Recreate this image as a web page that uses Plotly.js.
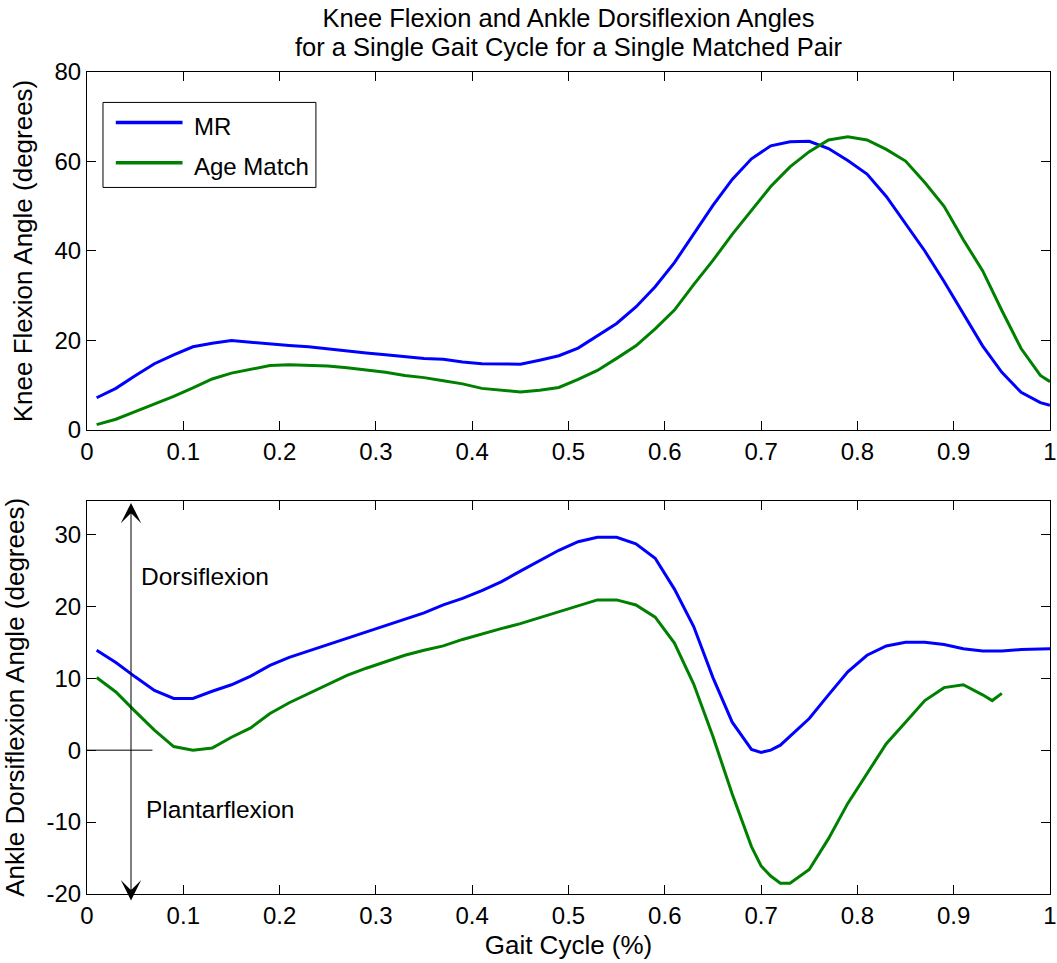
<!DOCTYPE html>
<html>
<head>
<meta charset="utf-8">
<script src="https://cdn.plot.ly/plotly-3.0.1.min.js"></script>
<style>html,body{margin:0;padding:0;background:#fff;}</style>
</head>
<body>
<div id="chart" style="width:1057px;height:963px;"></div>
<script>
// ---- Data ----
const kneeX = [0.01,0.03,0.05,0.07,0.09,0.11,0.13,0.15,0.17,0.19,0.21,0.23,0.25,0.27,0.29,0.31,0.33,0.35,0.37,0.39,0.41,0.43,0.45,0.47,0.49,0.51,0.53,0.55,0.57,0.59,0.61,0.63,0.65,0.67,0.69,0.71,0.73,0.75,0.77,0.79,0.81,0.83,0.85,0.87,0.89,0.91,0.93,0.95,0.97,0.99,1.00];

const kneeMR = [7.2,9.3,12.1,14.8,16.8,18.6,19.4,20.0,19.6,19.2,18.9,18.6,18.1,17.7,17.2,16.8,16.4,16.0,15.8,15.2,14.8,14.7,14.7,15.6,16.6,18.3,21.1,23.8,27.5,32.0,37.4,43.7,50.2,56.0,60.6,63.5,64.4,64.5,62.9,60.2,57.2,52.2,46.0,40.0,33.2,26.1,18.8,12.9,8.4,6.1,5.5];

const kneeAgeMatch = [1.2,2.4,4.1,5.8,7.5,9.4,11.4,12.7,13.5,14.4,14.6,14.5,14.3,13.9,13.4,12.9,12.2,11.7,11.0,10.3,9.3,8.9,8.5,8.9,9.5,11.3,13.3,16.0,18.8,22.6,26.8,32.5,37.9,43.7,49.1,54.4,58.8,62.2,64.8,65.5,64.8,62.7,60.1,55.3,50.0,42.5,35.6,26.7,18.2,12.2,10.8];

const ankleX = [0.01,0.03,0.05,0.07,0.09,0.11,0.13,0.15,0.17,0.19,0.21,0.23,0.25,0.27,0.29,0.31,0.33,0.35,0.37,0.39,0.41,0.43,0.45,0.47,0.49,0.51,0.53,0.55,0.57,0.59,0.61,0.63,0.65,0.67,0.69,0.70,0.71,0.72,0.73,0.75,0.77,0.79,0.81,0.83,0.85,0.87,0.89,0.91,0.93,0.95,0.97,0.99,1.00];

const ankleMR = [13.9,12.2,10.2,8.3,7.2,7.2,8.2,9.1,10.3,11.8,12.9,13.8,14.7,15.6,16.4,17.4,18.2,19.1,20.2,21.1,22.2,23.4,24.9,26.4,27.8,29.0,29.6,29.6,28.7,26.7,22.4,17.2,10.1,3.9,0.1,-0.3,0.0,0.7,1.9,4.4,7.7,10.9,13.2,14.5,15.0,15.0,14.7,14.1,13.8,13.8,14.0,14.1,14.1];

const ankleAgeX = [0.01,0.03,0.05,0.07,0.09,0.11,0.13,0.15,0.17,0.19,0.21,0.23,0.25,0.27,0.29,0.31,0.33,0.35,0.37,0.39,0.41,0.43,0.45,0.47,0.49,0.51,0.53,0.55,0.57,0.59,0.61,0.63,0.65,0.67,0.69,0.70,0.71,0.72,0.73,0.75,0.77,0.79,0.81,0.83,0.85,0.87,0.89,0.91,0.93,0.94,0.95];

const ankleAgeMatch = [10.1,8.1,5.4,2.8,0.5,0.0,0.3,1.8,3.1,5.1,6.6,7.9,9.2,10.4,11.4,12.3,13.2,13.9,14.5,15.4,16.2,16.9,17.6,18.4,19.2,20.1,20.9,20.9,20.2,18.5,14.9,9.2,1.9,-6.1,-13.4,-16.1,-17.5,-18.5,-18.5,-16.6,-12.3,-7.4,-3.2,0.9,3.9,6.9,8.7,9.1,7.7,6.9,7.9];

const seriesNames = ['MR', 'Age Match'];
const gaitTickVals = [0,0.1,0.2,0.3,0.4,0.5,0.6,0.7,0.8,0.9,1];
const gaitTickText = ['0','0.1','0.2','0.3','0.4','0.5','0.6','0.7','0.8','0.9','1'];
const kneeTickVals = [0,20,40,60,80];
const ankleTickVals = [-20,-10,0,10,20,30];
const ankleTickText = ['-20','-10','0','10','20','30'];

// ---- Styling ----
const FONT = 'Liberation Sans, Arial, Helvetica, sans-serif';
const BLUE = '#0000ff';
const GREEN = '#008000';

const traces = [
  {x: kneeX, y: kneeMR, name: seriesNames[0], type: 'scatter', mode: 'lines',
   line: {color: BLUE, width: 3}, xaxis: 'x', yaxis: 'y', showlegend: false},
  {x: kneeX, y: kneeAgeMatch, name: seriesNames[1], type: 'scatter', mode: 'lines',
   line: {color: GREEN, width: 3}, xaxis: 'x', yaxis: 'y', showlegend: false},
  {x: ankleX, y: ankleMR, name: seriesNames[0], type: 'scatter', mode: 'lines',
   line: {color: BLUE, width: 3}, xaxis: 'x2', yaxis: 'y2', showlegend: false},
  {x: ankleAgeX, y: ankleAgeMatch, name: seriesNames[1], type: 'scatter', mode: 'lines',
   line: {color: GREEN, width: 3}, xaxis: 'x2', yaxis: 'y2', showlegend: false}
];

function axisBase() {
  return {
    showline: true, linecolor: '#000', linewidth: 1, mirror: 'ticks',
    ticks: 'inside', ticklen: 9, tickwidth: 1, tickcolor: '#000',
    showgrid: false, zeroline: false,
    tickfont: {family: FONT, size: 24, color: '#000'}
  };
}

const TS = 'font-size:25.5px';
const layout = {
  width: 1057, height: 963,
  margin: {l: 87, r: 7, t: 72, b: 69},
  paper_bgcolor: '#fff', plot_bgcolor: '#fff',
  showlegend: false,
  title: {
    text: '<span style="' + TS + '">Knee Flexion and Ankle Dorsiflexion Angles</span><br><span style="' + TS + '">for a Single Gait Cycle for a Single Matched Pair</span>',
    font: {family: FONT, size: 22.3, color: '#000'},
    x: 0.5, xref: 'paper', xanchor: 'center',
    y: 0.972, yref: 'container', yanchor: 'middle'
  },
  xaxis: Object.assign(axisBase(), {domain: [0, 1], range: [0, 1], tickmode: 'array',
    tickvals: gaitTickVals, ticktext: gaitTickText, ticklabeloverflow: 'allow', anchor: 'y'}),
  yaxis: Object.assign(axisBase(), {
    domain: [0.5645, 1], range: [0, 80], tickmode: 'array', tickvals: kneeTickVals, anchor: 'x',
    title: {text: 'Knee Flexion Angle (degrees)', font: {family: FONT, size: 26, color: '#000'}, standoff: 14}
  }),
  xaxis2: Object.assign(axisBase(), {
    domain: [0, 1], range: [0, 1], tickmode: 'array', tickvals: gaitTickVals, ticktext: gaitTickText,
    ticklabeloverflow: 'allow', anchor: 'y2',
    title: {text: 'Gait Cycle (%)', font: {family: FONT, size: 26, color: '#000'}, standoff: 8}
  }),
  yaxis2: Object.assign(axisBase(), {
    domain: [0, 0.4785], range: [-20, 34.7], tickmode: 'array',
    tickvals: ankleTickVals, ticktext: ankleTickText, anchor: 'x2',
    title: {text: 'Ankle Dorsiflexion Angle (degrees)', font: {family: FONT, size: 26, color: '#000'}, standoff: 14}
  }),
  shapes: [
    // legend box (top panel)
    {type: 'rect', xref: 'x', yref: 'y', x0: 0.0166, x1: 0.2377, y0: 54.2, y1: 73.2,
     line: {color: '#000', width: 1}, fillcolor: '#fff', layer: 'above'},
    {type: 'line', xref: 'x', yref: 'y', x0: 0.0299, x1: 0.0992, y0: 68.7, y1: 68.7,
     line: {color: BLUE, width: 3.5}, layer: 'above'},
    {type: 'line', xref: 'x', yref: 'y', x0: 0.0299, x1: 0.0992, y0: 59.7, y1: 59.7,
     line: {color: GREEN, width: 3.5}, layer: 'above'},
    // zero reference line (bottom panel)
    {type: 'line', xref: 'x2', yref: 'y2', x0: 0, x1: 0.068, y0: 0, y1: 0,
     line: {color: '#000', width: 1}}
  ],
  annotations: [
    {xref: 'x', yref: 'y', x: 0.1095, y: 67.8, text: seriesNames[0], showarrow: false,
     xanchor: 'left', yanchor: 'middle', font: {family: FONT, size: 24, color: '#000'}},
    {xref: 'x', yref: 'y', x: 0.1095, y: 58.8, text: seriesNames[1], showarrow: false,
     xanchor: 'left', yanchor: 'middle', font: {family: FONT, size: 24, color: '#000'}},
    {xref: 'x2', yref: 'y2', x: 0.0457, y: -20.9, axref: 'x2', ayref: 'y2', ax: 0.0457, ay: 34.6,
     text: '', showarrow: true, arrowside: 'end+start', arrowhead: 3, startarrowhead: 3,
     arrowsize: 3.4, startarrowsize: 3.4, arrowwidth: 1, arrowcolor: '#000', standoff: 0, startstandoff: 0},
    {xref: 'x2', yref: 'y2', x: 0.0535, y: 24.1, text: 'Dorsiflexion', showarrow: false,
     xanchor: 'left', yanchor: 'middle', font: {family: FONT, size: 24.5, color: '#000'}},
    {xref: 'x2', yref: 'y2', x: 0.0595, y: -8.2, text: 'Plantarflexion', showarrow: false,
     xanchor: 'left', yanchor: 'middle', font: {family: FONT, size: 24.5, color: '#000'}}
  ]
};

Plotly.newPlot('chart', traces, layout, {displayModeBar: false, staticPlot: true});
</script>
</body>
</html>
